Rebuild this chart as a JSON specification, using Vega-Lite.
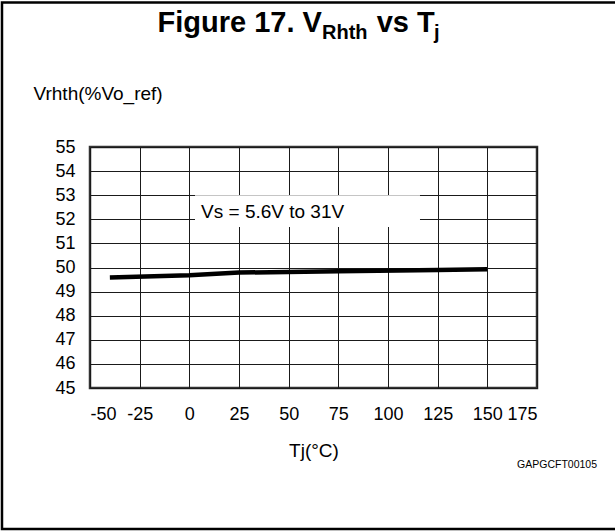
{
  "$schema": "https://vega.github.io/schema/vega-lite/v6.json",
  "width": 447,
  "height": 241,
  "autosize": {"type": "none"},
  "padding": {"left": 90, "top": 147, "right": 78, "bottom": 143},
  "background": "white",
  "config": {
    "font": "Liberation Sans",
    "view": {"stroke": "#333333", "strokeWidth": 2.5},
    "axis": {
      "grid": true,
      "gridColor": "#1a1a1a",
      "gridWidth": 1,
      "gridOpacity": 1,
      "domain": false,
      "ticks": false,
      "labelOverlap": false,
      "labelColor": "black",
      "titleColor": "black",
      "labelFontSize": 18,
      "titleFontSize": 19,
      "titleFontWeight": "normal",
      "labelFont": "Liberation Sans",
      "titleFont": "Liberation Sans",
      "labelExpr": "'' + datum.value"
    }
  },
  "layer": [
    {
      "data": {"values": [{"x": -40, "y": 49.59}, {"x": 0, "y": 49.68}, {"x": 25, "y": 49.79}, {"x": 75, "y": 49.84}, {"x": 125, "y": 49.9}, {"x": 150, "y": 49.93}]},
      "mark": {"type": "line", "color": "black", "strokeWidth": 4.5, "strokeCap": "butt"},
      "encoding": {
        "x": {"field": "x", "type": "quantitative", "scale": {"domain": [-50, 175], "nice": false, "zero": false},
          "axis": {"values": [-50, -25, 0, 25, 50, 75, 100, 125, 150, 175], "labelPadding": 17, "title": "Tj(°C)", "titleY": 68, "titleBaseline": "alphabetic"}},
        "y": {"field": "y", "type": "quantitative", "scale": {"domain": [45, 55], "nice": false, "zero": false},
          "axis": {"values": [45, 46, 47, 48, 49, 50, 51, 52, 53, 54, 55], "labelPadding": 15, "title": "Vrhth(%Vo_ref)", "titleAngle": 0, "titleAlign": "left", "titleBaseline": "alphabetic", "titleX": -57, "titleY": -48}}
      }
    },
    {
      "data": {"values": [{"label": "Vs = 5.6V to 31V"}]},
      "mark": {"type": "rect", "fill": "white", "stroke": null},
      "encoding": {
        "x": {"datum": 2.85, "type": "quantitative",
          "axis": {"values": [-50, -25, 0, 25, 50, 75, 100, 125, 150, 175], "labelPadding": 17, "title": "Tj(°C)", "titleY": 68, "titleBaseline": "alphabetic"}},
        "x2": {"datum": 116.1},
        "y": {"datum": 53.0, "type": "quantitative",
          "axis": {"values": [45, 46, 47, 48, 49, 50, 51, 52, 53, 54, 55], "labelPadding": 15, "title": "Vrhth(%Vo_ref)", "titleAngle": 0, "titleAlign": "left", "titleBaseline": "alphabetic", "titleX": -57, "titleY": -48}},
        "y2": {"datum": 51.68}
      }
    },
    {
      "data": {"values": [{"label": "Vs = 5.6V to 31V"}]},
      "mark": {"type": "text", "align": "left", "baseline": "alphabetic", "fontSize": 19, "color": "black"},
      "encoding": {
        "x": {"datum": 5.9, "type": "quantitative",
          "axis": {"values": [-50, -25, 0, 25, 50, 75, 100, 125, 150, 175], "labelPadding": 17, "title": "Tj(°C)", "titleY": 68, "titleBaseline": "alphabetic"}},
        "y": {"datum": 52.05, "type": "quantitative",
          "axis": {"values": [45, 46, 47, 48, 49, 50, 51, 52, 53, 54, 55], "labelPadding": 15, "title": "Vrhth(%Vo_ref)", "titleAngle": 0, "titleAlign": "left", "titleBaseline": "alphabetic", "titleX": -57, "titleY": -48}},
        "text": {"field": "label"}
      }
    },
    {
      "data": {"values": [{"label": "Figure 17. V"}]},
      "mark": {"type": "text", "align": "left", "baseline": "alphabetic", "fontSize": 29, "fontWeight": "bold", "color": "black"},
      "encoding": {
        "x": {"datum": -16.0, "type": "quantitative",
          "axis": {"values": [-50, -25, 0, 25, 50, 75, 100, 125, 150, 175], "labelPadding": 17, "title": "Tj(°C)", "titleY": 68, "titleBaseline": "alphabetic"}},
        "y": {"datum": 59.77, "type": "quantitative",
          "axis": {"values": [45, 46, 47, 48, 49, 50, 51, 52, 53, 54, 55], "labelPadding": 15, "title": "Vrhth(%Vo_ref)", "titleAngle": 0, "titleAlign": "left", "titleBaseline": "alphabetic", "titleX": -57, "titleY": -48}},
        "text": {"field": "label"}
      }
    },
    {
      "data": {"values": [{"label": "Rhth"}]},
      "mark": {"type": "text", "align": "left", "baseline": "alphabetic", "fontSize": 20, "fontWeight": "bold", "color": "black", "dy": 7},
      "encoding": {
        "x": {"datum": 66.8, "type": "quantitative",
          "axis": {"values": [-50, -25, 0, 25, 50, 75, 100, 125, 150, 175], "labelPadding": 17, "title": "Tj(°C)", "titleY": 68, "titleBaseline": "alphabetic"}},
        "y": {"datum": 59.77, "type": "quantitative",
          "axis": {"values": [45, 46, 47, 48, 49, 50, 51, 52, 53, 54, 55], "labelPadding": 15, "title": "Vrhth(%Vo_ref)", "titleAngle": 0, "titleAlign": "left", "titleBaseline": "alphabetic", "titleX": -57, "titleY": -48}},
        "text": {"field": "label"}
      }
    },
    {
      "data": {"values": [{"label": "vs T"}]},
      "mark": {"type": "text", "align": "left", "baseline": "alphabetic", "fontSize": 29, "fontWeight": "bold", "color": "black"},
      "encoding": {
        "x": {"datum": 94.3, "type": "quantitative",
          "axis": {"values": [-50, -25, 0, 25, 50, 75, 100, 125, 150, 175], "labelPadding": 17, "title": "Tj(°C)", "titleY": 68, "titleBaseline": "alphabetic"}},
        "y": {"datum": 59.77, "type": "quantitative",
          "axis": {"values": [45, 46, 47, 48, 49, 50, 51, 52, 53, 54, 55], "labelPadding": 15, "title": "Vrhth(%Vo_ref)", "titleAngle": 0, "titleAlign": "left", "titleBaseline": "alphabetic", "titleX": -57, "titleY": -48}},
        "text": {"field": "label"}
      }
    },
    {
      "data": {"values": [{"label": "j"}]},
      "mark": {"type": "text", "align": "left", "baseline": "alphabetic", "fontSize": 20, "fontWeight": "bold", "color": "black", "dy": 7},
      "encoding": {
        "x": {"datum": 123.2, "type": "quantitative",
          "axis": {"values": [-50, -25, 0, 25, 50, 75, 100, 125, 150, 175], "labelPadding": 17, "title": "Tj(°C)", "titleY": 68, "titleBaseline": "alphabetic"}},
        "y": {"datum": 59.77, "type": "quantitative",
          "axis": {"values": [45, 46, 47, 48, 49, 50, 51, 52, 53, 54, 55], "labelPadding": 15, "title": "Vrhth(%Vo_ref)", "titleAngle": 0, "titleAlign": "left", "titleBaseline": "alphabetic", "titleX": -57, "titleY": -48}},
        "text": {"field": "label"}
      }
    },
    {
      "data": {"values": [{"label": "GAPGCFT00105"}]},
      "mark": {"type": "text", "align": "right", "baseline": "alphabetic", "fontSize": 10.5, "color": "black"},
      "encoding": {
        "x": {"datum": 205.2, "type": "quantitative",
          "axis": {"values": [-50, -25, 0, 25, 50, 75, 100, 125, 150, 175], "labelPadding": 17, "title": "Tj(°C)", "titleY": 68, "titleBaseline": "alphabetic"}},
        "y": {"datum": 41.68, "type": "quantitative",
          "axis": {"values": [45, 46, 47, 48, 49, 50, 51, 52, 53, 54, 55], "labelPadding": 15, "title": "Vrhth(%Vo_ref)", "titleAngle": 0, "titleAlign": "left", "titleBaseline": "alphabetic", "titleX": -57, "titleY": -48}},
        "text": {"field": "label"}
      }
    },
    {
      "data": {"values": [{"label": "frame"}]},
      "mark": {"type": "rect", "fill": null, "stroke": "black", "strokeWidth": 2.5},
      "encoding": {
        "x": {"datum": -94.3, "type": "quantitative",
          "axis": {"values": [-50, -25, 0, 25, 50, 75, 100, 125, 150, 175], "labelPadding": 17, "title": "Tj(°C)", "titleY": 68, "titleBaseline": "alphabetic"}},
        "x2": {"datum": 218},
        "y": {"datum": 61.0, "type": "quantitative",
          "axis": {"values": [45, 46, 47, 48, 49, 50, 51, 52, 53, 54, 55], "labelPadding": 15, "title": "Vrhth(%Vo_ref)", "titleAngle": 0, "titleAlign": "left", "titleBaseline": "alphabetic", "titleX": -57, "titleY": -48}},
        "y2": {"datum": 39.15}
      }
    }
  ]
}
